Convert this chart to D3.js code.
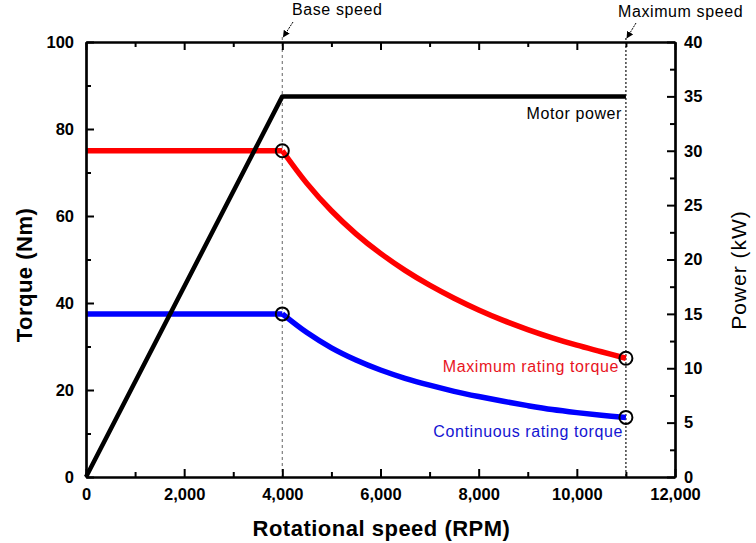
<!DOCTYPE html>
<html><head><meta charset="utf-8">
<script src="https://cdn.jsdelivr.net/npm/d3@7"></script>
<style>
body{margin:0;background:#fff;}
svg{display:block;font-family:Arial,"Liberation Sans",sans-serif;}
</style></head>
<body>
<svg id="c" width="756" height="543"></svg>
<script>
// ---- data ----
const speedTicks = [0, 2000, 4000, 6000, 8000, 10000, 12000];
const torqueTicks = [0, 20, 40, 60, 80, 100];
const powerTicks = [0, 5, 10, 15, 20, 25, 30, 35, 40];
// constant-torque region
const flatSpeeds = [0, 4000];
const maxTorqueFlat = [75, 75];
const contTorqueFlat = [37.5, 37.5];
// field-weakening region
const speeds = [4000, 4500, 5000, 5500, 6000, 6500, 7000, 7500, 8000, 8500, 9000, 9500, 10000, 10500, 11000];
const maxTorque = [75, 67.5, 61.2, 55.9, 51.4, 47.5, 44.1, 41.1, 38.4, 36.0, 33.9, 32.0, 30.3, 28.8, 27.3];
const contTorque = [37.5, 33.2, 29.7, 26.9, 24.6, 22.7, 21.1, 19.7, 18.5, 17.4, 16.4, 15.5, 14.8, 14.2, 13.7];
const powerSpeeds = [0, 4000, 11000];
const motorPower = [0, 35, 35];
const baseSpeed = 4000, maxSpeed = 11000;
const markers = [[4000, 75], [4000, 37.5], [11000, 27.3], [11000, 13.7]];

// ---- layout ----
const L = 86, R = 675, T = 42, B = 477;
const svg = d3.select("#c");
const x = d3.scaleLinear().domain([0, 12000]).range([L, R]);
const yT = d3.scaleLinear().domain([0, 100]).range([B, T]);
const yP = d3.scaleLinear().domain([0, 40]).range([B, T]);
const fmt = d3.format(",");

// vertical reference lines
svg.append("line").attr("x1", x(baseSpeed)).attr("x2", x(baseSpeed)).attr("y1", 37).attr("y2", B)
  .attr("stroke", "#888").attr("stroke-width", 1.3).attr("stroke-dasharray", "3,3");
svg.append("line").attr("x1", x(maxSpeed)).attr("x2", x(maxSpeed)).attr("y1", 38).attr("y2", B)
  .attr("stroke", "#111").attr("stroke-width", 1.2).attr("stroke-dasharray", "2,2");

// curves
function drawTorque(xs, ys, color, curve) {
  const ln = d3.line().x((d, i) => x(xs[i])).y(d => yT(d)).curve(curve);
  svg.append("path").attr("d", ln(ys)).attr("fill", "none").attr("stroke", color)
    .attr("stroke-width", 5.5).attr("stroke-linecap", "butt");
}
drawTorque(flatSpeeds, maxTorqueFlat, "#ff0000", d3.curveLinear);
drawTorque(speeds, maxTorque, "#ff0000", d3.curveCatmullRom);
drawTorque(flatSpeeds, contTorqueFlat, "#0000ff", d3.curveLinear);
drawTorque(speeds, contTorque, "#0000ff", d3.curveCatmullRom);
const lineP = d3.line().x((d, i) => x(powerSpeeds[i])).y(d => yP(d));
svg.append("path").attr("d", lineP(motorPower)).attr("fill", "none").attr("stroke", "#000").attr("stroke-width", 4.5).attr("stroke-linejoin", "round");

// markers
svg.selectAll("circle.m").data(markers).enter().append("circle")
  .attr("cx", d => x(d[0])).attr("cy", d => yT(d[1])).attr("r", 6.5)
  .attr("fill", "none").attr("stroke", "#000").attr("stroke-width", 2);

// axes
function styleAxis(g) {
  g.select(".domain").attr("stroke", "#000").attr("stroke-width", 2.2);
  g.selectAll(".tick line").attr("stroke", "#000").attr("stroke-width", 2);
  g.selectAll("text").attr("font-size", 16.5).attr("font-weight", "bold").attr("fill", "#000")
    .attr("font-family", "Arial, 'Liberation Sans', sans-serif");
}
const minorX = d3.range(1000, 12000, 2000);
const minorT = d3.range(10, 100, 20);
const minorP = d3.range(2.5, 40, 5);

svg.append("g").attr("transform", `translate(0,${B})`)
  .call(d3.axisBottom(x).tickValues(minorX).tickSize(-5).tickSizeOuter(0).tickFormat("")).call(styleAxis);
svg.append("g").attr("transform", `translate(0,${B})`)
  .call(d3.axisBottom(x).tickValues(speedTicks).tickSize(-8).tickSizeOuter(0).tickPadding(11).tickFormat(fmt)).call(styleAxis);
svg.append("g").attr("transform", `translate(0,${T})`)
  .call(d3.axisTop(x).tickValues(minorX).tickSize(-5).tickSizeOuter(0).tickFormat("")).call(styleAxis);
svg.append("g").attr("transform", `translate(0,${T})`)
  .call(d3.axisTop(x).tickValues(speedTicks).tickSize(-8).tickSizeOuter(0).tickFormat("")).call(styleAxis);

svg.append("g").attr("transform", `translate(${L},0)`)
  .call(d3.axisLeft(yT).tickValues(minorT).tickSize(-5).tickSizeOuter(0).tickFormat("")).call(styleAxis);
svg.append("g").attr("transform", `translate(${L},0)`)
  .call(d3.axisLeft(yT).tickValues(torqueTicks).tickSize(-8).tickSizeOuter(0).tickPadding(12)).call(styleAxis);

svg.append("g").attr("transform", `translate(${R},0)`)
  .call(d3.axisRight(yP).tickValues(minorP).tickSize(-5).tickSizeOuter(0).tickFormat("")).call(styleAxis);
svg.append("g").attr("transform", `translate(${R},0)`)
  .call(d3.axisRight(yP).tickValues(powerTicks).tickSize(-8).tickSizeOuter(0).tickPadding(9)).call(styleAxis);

// axis titles
svg.append("text").attr("x", (L + R) / 2 + 1).attr("y", 536).attr("text-anchor", "middle")
  .attr("font-size", 22).attr("font-weight", "bold").attr("letter-spacing", 0.5).text("Rotational speed (RPM)");
svg.append("text").attr("transform", "translate(32,275) rotate(-90)").attr("text-anchor", "middle")
  .attr("font-size", 22).attr("font-weight", "bold").attr("letter-spacing", 0.5).text("Torque (Nm)");
svg.append("text").attr("transform", "translate(746,270) rotate(-90)").attr("text-anchor", "middle")
  .attr("font-size", 21).attr("letter-spacing", 1).text("Power (kW)");

// annotations
function note(txt, xx, yy, color, anchor) {
  svg.append("text").attr("x", xx).attr("y", yy).attr("text-anchor", anchor || "start")
    .attr("font-size", 16).attr("letter-spacing", 0.6).attr("fill", color).text(txt);
}
note("Base speed", 292, 15, "#000");
note("Maximum speed", 618, 17, "#000");
note("Motor power", 622, 119, "#000", "end");
note("Maximum rating torque", 619, 372, "#e8141e", "end");
note("Continuous rating torque", 623, 437, "#1414d2", "end");

// arrows
const defs = svg.append("defs");
defs.append("marker").attr("id", "ah").attr("viewBox", "0 0 10 10").attr("refX", 9).attr("refY", 5)
  .attr("markerWidth", 7).attr("markerHeight", 7).attr("orient", "auto")
  .append("path").attr("d", "M0,0 L10,5 L0,10 z").attr("fill", "#000");
svg.append("line").attr("x1", 293).attr("y1", 22).attr("x2", x(baseSpeed) + 1).attr("y2", 37)
  .attr("stroke", "#000").attr("stroke-width", 1).attr("stroke-dasharray", "2,1").attr("marker-end", "url(#ah)");
svg.append("line").attr("x1", 636).attr("y1", 23).attr("x2", x(maxSpeed) + 1).attr("y2", 38)
  .attr("stroke", "#000").attr("stroke-width", 1).attr("stroke-dasharray", "2,1").attr("marker-end", "url(#ah)");
</script>
</body></html>
